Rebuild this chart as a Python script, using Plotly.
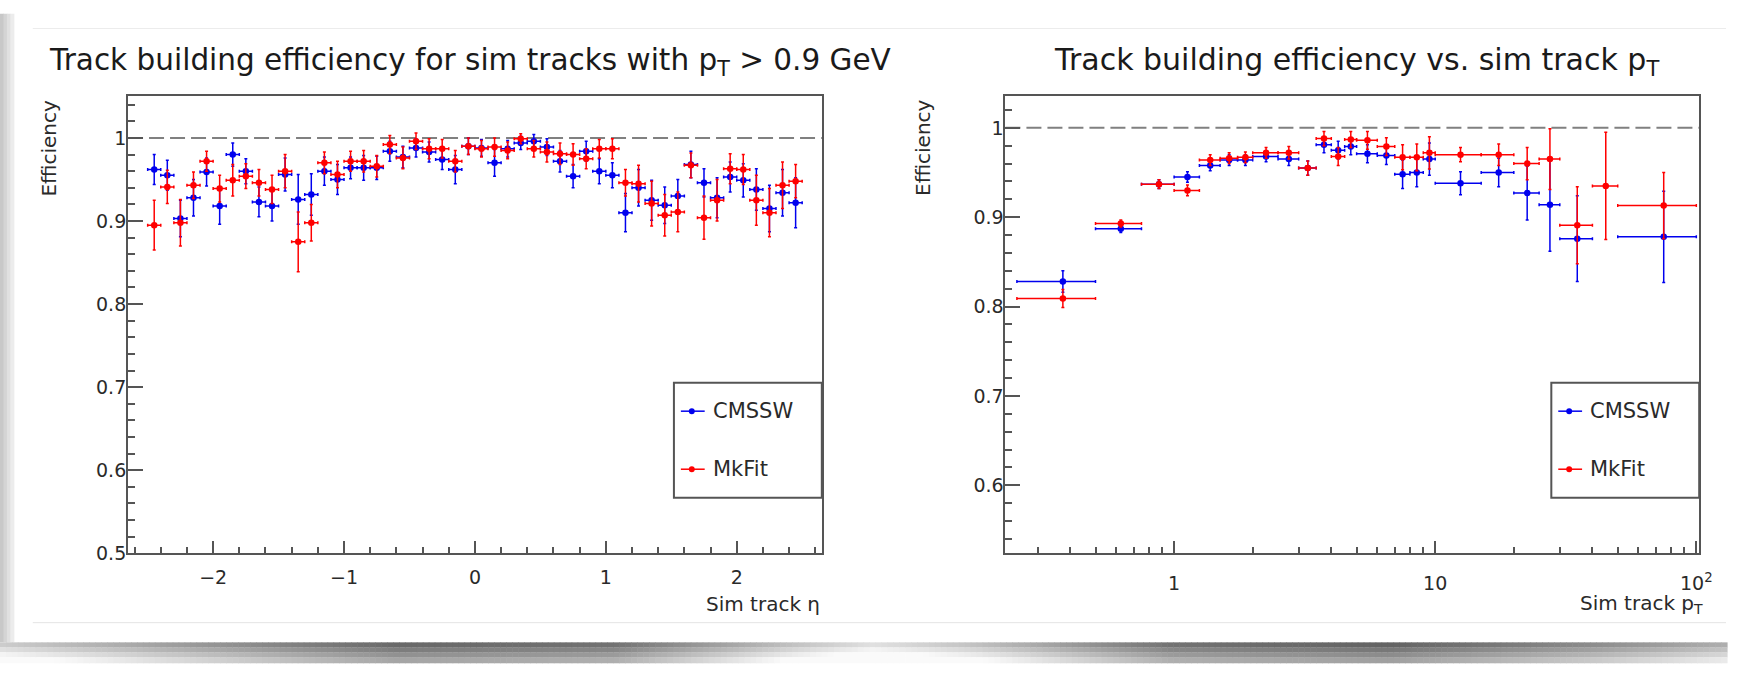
import plotly.graph_objects as go

W, H = 1739, 674

# ---------------- data: efficiency vs eta ----------------
eta_centers = [-2.45, -2.35, -2.25, -2.15, -2.05, -1.95, -1.85, -1.75, -1.65, -1.55,
               -1.45, -1.35, -1.25, -1.15, -1.05, -0.95, -0.85, -0.75, -0.65, -0.55,
               -0.45, -0.35, -0.25, -0.15, -0.05, 0.05, 0.15, 0.25, 0.35, 0.45,
               0.55, 0.65, 0.75, 0.85, 0.95, 1.05, 1.15, 1.25, 1.35, 1.45,
               1.55, 1.65, 1.75, 1.85, 1.95, 2.05, 2.15, 2.25, 2.35, 2.45]
eta_halfwidth = 0.05

cmssw_eta = [0.962, 0.955, 0.903, 0.928, 0.959, 0.918, 0.980, 0.960, 0.923, 0.918,
             0.956, 0.926, 0.932, 0.960, 0.950, 0.964, 0.964, 0.964, 0.984, 0.977,
             0.988, 0.983, 0.974, 0.962, 0.990, 0.988, 0.970, 0.987, 0.994, 0.996,
             0.989, 0.972, 0.954, 0.984, 0.960, 0.955, 0.910, 0.940, 0.925, 0.919,
             0.930, 0.968, 0.946, 0.928, 0.953, 0.949, 0.938, 0.915, 0.934, 0.922]
cmssw_eta_err = [0.018, 0.018, 0.022, 0.022, 0.017, 0.022, 0.014, 0.015, 0.018, 0.018,
                 0.020, 0.030, 0.025, 0.017, 0.018, 0.013, 0.015, 0.014, 0.012, 0.013,
                 0.011, 0.012, 0.012, 0.017, 0.010, 0.010, 0.016, 0.010, 0.008, 0.008,
                 0.010, 0.013, 0.014, 0.012, 0.015, 0.015, 0.023, 0.022, 0.024, 0.022,
                 0.020, 0.016, 0.017, 0.024, 0.018, 0.020, 0.025, 0.028, 0.028, 0.030]
mkfit_eta = [0.895, 0.941, 0.898, 0.943, 0.972, 0.939, 0.949, 0.954, 0.946, 0.938,
             0.960, 0.875, 0.898, 0.970, 0.956, 0.972, 0.972, 0.966, 0.992, 0.976,
             0.996, 0.987, 0.987, 0.972, 0.990, 0.987, 0.989, 0.985, 0.999, 0.987,
             0.983, 0.981, 0.980, 0.975, 0.987, 0.987, 0.946, 0.945, 0.921, 0.907,
             0.911, 0.967, 0.904, 0.925, 0.963, 0.962, 0.925, 0.910, 0.943, 0.948]
mkfit_eta_err = [0.030, 0.020, 0.028, 0.016, 0.012, 0.016, 0.019, 0.015, 0.016, 0.017,
                 0.020, 0.036, 0.022, 0.013, 0.016, 0.012, 0.013, 0.013, 0.011, 0.013,
                 0.010, 0.012, 0.011, 0.013, 0.010, 0.010, 0.011, 0.010, 0.006, 0.010,
                 0.012, 0.013, 0.013, 0.012, 0.011, 0.012, 0.016, 0.022, 0.027, 0.025,
                 0.024, 0.015, 0.026, 0.025, 0.018, 0.018, 0.030, 0.029, 0.028, 0.020]

# ---------------- data: efficiency vs pT ----------------
pt_low = [0.25, 0.5, 0.75, 1.0, 1.25, 1.5, 1.75, 2.0, 2.5, 3.0, 3.5, 4.0, 4.5,
          5.0, 6.0, 7.0, 8.0, 9.0, 10.0, 15.0, 20.0, 25.0, 30.0, 40.0, 50.0]
pt_high = [0.5, 0.75, 1.0, 1.25, 1.5, 1.75, 2.0, 2.5, 3.0, 3.5, 4.0, 4.5, 5.0,
           6.0, 7.0, 8.0, 9.0, 10.0, 15.0, 20.0, 25.0, 30.0, 40.0, 50.0, 100.0]
cmssw_pt = [0.828, 0.887, 0.937, 0.945, 0.958, 0.964, 0.964, 0.968, 0.965, 0.955,
            0.981, 0.975, 0.979, 0.971, 0.969, 0.948, 0.950, 0.965, 0.938, 0.950,
            0.927, 0.914, 0.876, None, 0.878]
cmssw_pt_err = [0.012, 0.004, 0.005, 0.006, 0.006, 0.006, 0.006, 0.006, 0.007, 0.008,
                0.009, 0.010, 0.009, 0.010, 0.010, 0.016, 0.016, 0.018, 0.013, 0.016,
                0.030, 0.052, 0.048, 0.0, 0.051]
mkfit_pt = [0.809, 0.893, 0.937, 0.930, 0.964, 0.966, 0.967, 0.972, 0.972, 0.955,
            0.988, 0.968, 0.987, 0.986, 0.979, 0.967, 0.967, 0.972, 0.970, 0.970,
            0.960, 0.965, 0.891, 0.935, 0.913]
mkfit_pt_err = [0.010, 0.004, 0.005, 0.006, 0.006, 0.006, 0.006, 0.006, 0.007, 0.008,
                0.008, 0.010, 0.009, 0.010, 0.010, 0.014, 0.015, 0.018, 0.008, 0.012,
                0.018, 0.034, 0.043, 0.060, 0.037]

pt_center = [(lo + hi) / 2 for lo, hi in zip(pt_low, pt_high)]
pt_err_plus = [hi - c for hi, c in zip(pt_high, pt_center)]
pt_err_minus = [c - lo for lo, c in zip(pt_low, pt_center)]

series_names = ["CMSSW", "MkFit"]
BLUE = "#0000ee"
RED = "#ff0000"
FONT = "DejaVu Sans"
AXC = "#555555"
TXT = "#2a2a2a"


def px(x):
    return x / W


def py(y):
    return 1 - y / H


fig = go.Figure()


def add_series(x, y, yerr, color, name, xa, ya, xerr=None, xerr_minus=None):
    ex = dict(type="data", symmetric=xerr_minus is None, array=xerr,
              arrayminus=xerr_minus, color=color, thickness=1.5, width=1.5)
    fig.add_trace(go.Scatter(
        x=x, y=y, mode="markers", name=name, showlegend=False,
        xaxis=xa, yaxis=ya,
        marker=dict(color=color, size=6.5, symbol="circle"),
        error_y=dict(type="data", array=yerr, color=color, thickness=1.5, width=1.5),
        error_x=ex,
    ))


add_series(eta_centers, cmssw_eta, cmssw_eta_err, BLUE, series_names[0], "x", "y",
           xerr=[eta_halfwidth] * len(eta_centers))
add_series(eta_centers, mkfit_eta, mkfit_eta_err, RED, series_names[1], "x", "y",
           xerr=[eta_halfwidth] * len(eta_centers))
add_series(pt_center, cmssw_pt, cmssw_pt_err, BLUE, series_names[0], "x2", "y2",
           xerr=pt_err_plus, xerr_minus=pt_err_minus)
add_series(pt_center, mkfit_pt, mkfit_pt_err, RED, series_names[1], "x2", "y2",
           xerr=pt_err_plus, xerr_minus=pt_err_minus)

axis_common = dict(showline=True, mirror=True, linecolor=AXC, linewidth=2,
                   ticks="inside", tickcolor=AXC, tickwidth=1.5,
                   showgrid=False, zeroline=False,
                   tickfont=dict(family=FONT, size=19, color=TXT))

left_dom = [px(129), px(828)]
right_dom = [px(1013), px(1712)]
y_dom = [py(562.5), py(98)]

fig.update_layout(
    width=W, height=H,
    margin=dict(l=0, r=0, t=0, b=0),
    paper_bgcolor="white", plot_bgcolor="white",
    showlegend=False,
    xaxis=dict(domain=left_dom, range=[-2.65, 2.65], anchor="y",
               tickvals=[-2, -1, 0, 1, 2], ticktext=["\u22122", "\u22121", "0", "1", "2"],
               ticklen=12, ticklabelstandoff=6,
               minor=dict(ticks="inside", ticklen=6, dtick=0.2, tick0=0,
                          tickcolor=AXC, tickwidth=1.5),
               **axis_common),
    yaxis=dict(domain=y_dom, range=[0.5, 1.05], anchor="x",
               tickvals=[0.5, 0.6, 0.7, 0.8, 0.9, 1.0],
               ticktext=["0.5", "0.6", "0.7", "0.8", "0.9", "1"],
               ticklen=15, ticklabelstandoff=-4,
               minor=dict(ticks="inside", ticklen=7, dtick=0.02, tick0=0.5,
                          tickcolor=AXC, tickwidth=1.5),
               **axis_common),
    xaxis2=dict(domain=right_dom, type="log", range=[-0.646, 2.011], anchor="y2",
                tickvals=[1, 10, 100], ticktext=["1", "10", "10<sup>2</sup>"],
                ticklen=12, ticklabelstandoff=12,
                minor=dict(ticks="inside", ticklen=6, tickmode="array",
                           tickvals=[0.3, 0.4, 0.5, 0.6, 0.7, 0.8, 0.9,
                                     2, 3, 4, 5, 6, 7, 8, 9,
                                     20, 30, 40, 50, 60, 70, 80, 90],
                           tickcolor=AXC, tickwidth=1.5),
                **axis_common),
    yaxis2=dict(domain=y_dom, range=[0.5238, 1.0352], anchor="x2",
                tickvals=[0.6, 0.7, 0.8, 0.9, 1.0],
                ticktext=["0.6", "0.7", "0.8", "0.9", "1"],
                ticklen=15, ticklabelstandoff=-4,
                minor=dict(ticks="inside", ticklen=7, dtick=0.02, tick0=0.5,
                           tickcolor=AXC, tickwidth=1.5),
                **axis_common),
)

shapes = []
# page decoration: left shadow strip
for i, g in enumerate([200, 212, 224, 236]):
    shapes.append(dict(type="rect", xref="paper", yref="paper",
                       x0=px(i * 3.5), x1=px((i + 1) * 3.5 + 0.5), y0=py(653), y1=py(14),
                       line=dict(width=0), fillcolor=f"rgb({g},{g},{g})", layer="below"))
# faint card lines
shapes.append(dict(type="line", xref="paper", yref="paper", x0=px(33), x1=1,
                   y0=py(29), y1=py(29), line=dict(color="#ececec", width=1)))
shapes.append(dict(type="line", xref="paper", yref="paper", x0=px(33), x1=1,
                   y0=py(633), y1=py(633), line=dict(color="#e4e4e4", width=1)))
# bottom curled shadow
keys = [(0, 205), (150, 165), (400, 105), (620, 115), (800, 195), (880, 225),
        (980, 195), (1180, 115), (1400, 100), (1600, 140), (1739, 175)]


def gray_at(x):
    for (x0, g0), (x1, g1) in zip(keys[:-1], keys[1:]):
        if x0 <= x <= x1:
            return g0 + (g1 - g0) * (x - x0) / (x1 - x0)
    return keys[-1][1]


step = 6
bands = [(653, 658), (658, 663), (663, 668), (668, 674)]
for xs in range(0, W, step):
    g = gray_at(xs + step / 2)
    for k, (ya, yb) in enumerate(bands):
        gg = int(min(250, g + k * 20))
        shapes.append(dict(type="rect", xref="paper", yref="paper",
                           x0=px(xs), x1=px(xs + step + 0.6), y0=py(yb + 0.3), y1=py(ya),
                           line=dict(width=0), fillcolor=f"rgb({gg},{gg},{gg})"))

# dashed reference line at efficiency = 1
for xr, yr in [("x domain", "y"), ("x2 domain", "y2")]:
    shapes.append(dict(type="line", xref=xr, yref=yr, x0=0, x1=1, y0=1, y1=1,
                       line=dict(color="#808080", width=2, dash="15px,6px"), layer="below"))

# legends
annotations = []
for (bx0, bx1, sx0, sx1, sdot, tx) in [(679, 828, 686, 710, 697, 716),
                                        (1563, 1712, 1570, 1594, 1581, 1600)]:
    shapes.append(dict(type="rect", xref="paper", yref="paper",
                       x0=px(bx0), x1=px(bx1), y0=py(506), y1=py(389),
                       line=dict(color=AXC, width=2), fillcolor="white"))
    for name, color, yy in [(series_names[0], BLUE, 418), (series_names[1], RED, 477)]:
        shapes.append(dict(type="line", xref="paper", yref="paper",
                           x0=px(sx0), x1=px(sx1), y0=py(yy), y1=py(yy),
                           line=dict(color=color, width=1.5)))
        shapes.append(dict(type="circle", xref="paper", yref="paper",
                           x0=px(sdot - 3), x1=px(sdot + 3), y0=py(yy + 3), y1=py(yy - 3),
                           line=dict(color=color, width=0), fillcolor=color))
        annotations.append(dict(x=px(tx), y=py(yy), xref="paper", yref="paper",
                                text=name, showarrow=False, xanchor="left", yanchor="middle",
                                font=dict(family=FONT, size=21, color=TXT)))

# titles
annotations.append(dict(x=px(474), y=py(63), xref="paper", yref="paper",
                        text="Track building efficiency for sim tracks with p<sub>T</sub> > 0.9 GeV",
                        showarrow=False, xanchor="center", yanchor="middle",
                        font=dict(family=FONT, size=29.5, color="#1a1a1a")))
annotations.append(dict(x=px(1367), y=py(63), xref="paper", yref="paper",
                        text="Track building efficiency vs. sim track p<sub>T</sub>",
                        showarrow=False, xanchor="center", yanchor="middle",
                        font=dict(family=FONT, size=30, color="#1a1a1a")))
# axis titles
annotations.append(dict(x=px(828), y=py(614), xref="paper", yref="paper",
                        text="Sim track \u03b7", showarrow=False, xanchor="right",
                        yanchor="middle", font=dict(family=FONT, size=20, color=TXT)))
annotations.append(dict(x=px(1718), y=py(614), xref="paper", yref="paper",
                        text="Sim track p<sub>T</sub>", showarrow=False, xanchor="right",
                        yanchor="middle", font=dict(family=FONT, size=20, color=TXT)))
for xx in [49, 930]:
    annotations.append(dict(x=px(xx), y=py(99), xref="paper", yref="paper",
                            text="Efficiency", showarrow=False, textangle=-90,
                            xanchor="center", yanchor="top",
                            font=dict(family=FONT, size=20, color=TXT)))

fig.update_layout(shapes=shapes, annotations=annotations)
fig.write_html("out.html")
